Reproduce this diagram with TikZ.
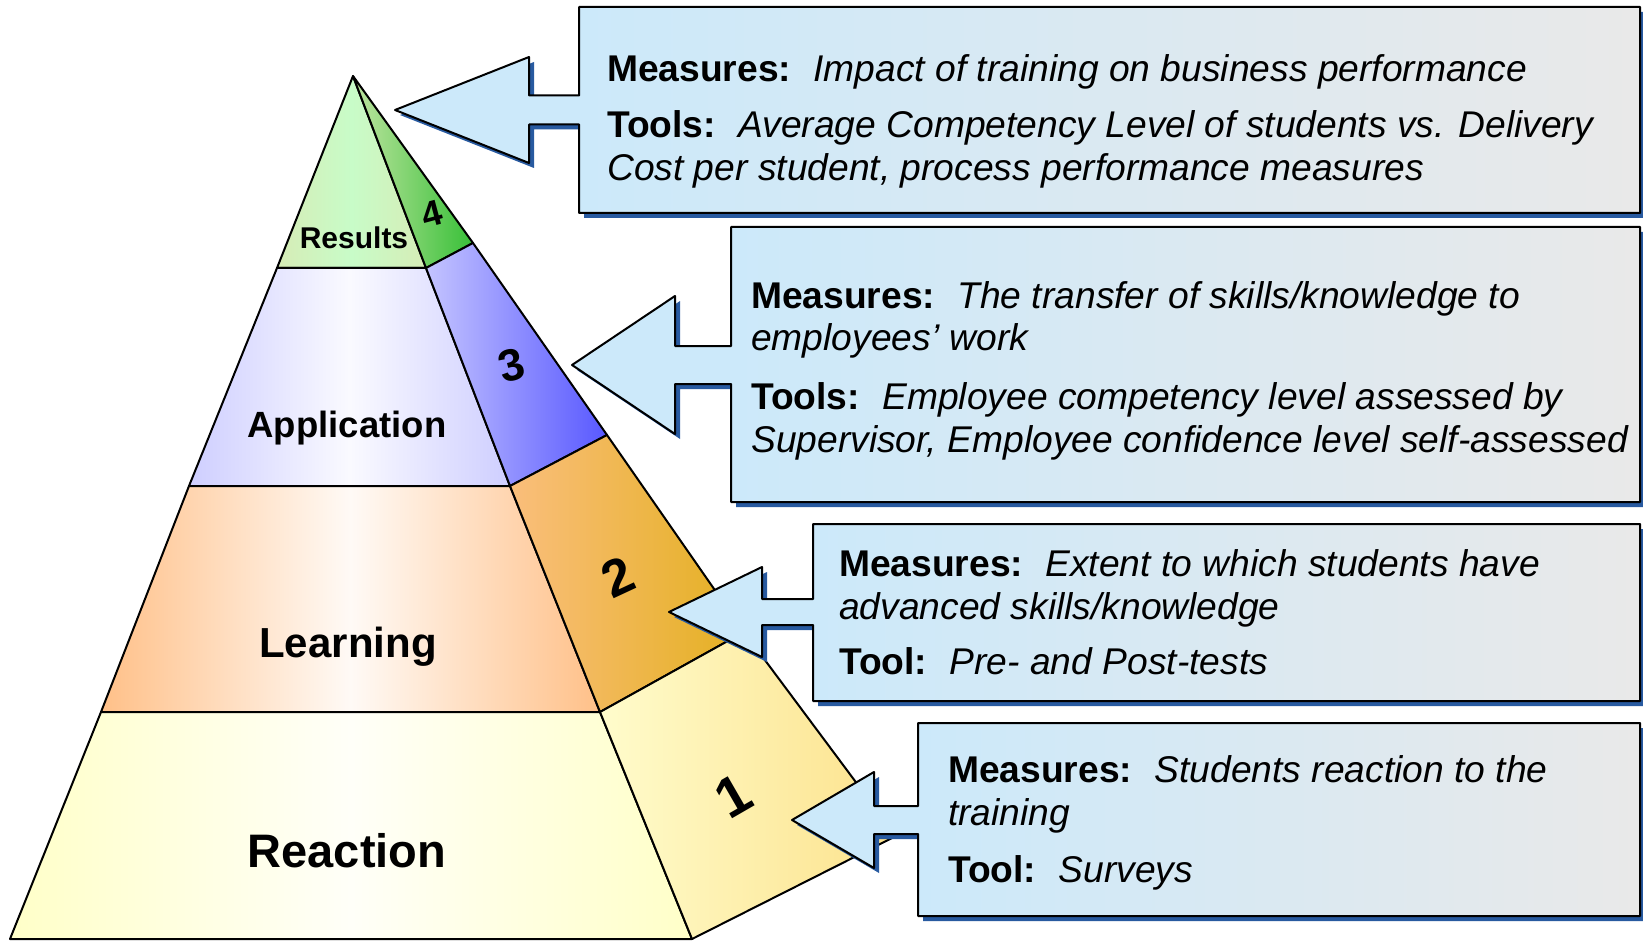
\documentclass[tikz,border=0pt]{standalone}
\usepackage{fontspec}
\setmainfont{Liberation Sans}
\usetikzlibrary{calc}
\definecolor{callblue}{RGB}{204,233,250}
\definecolor{callgrey}{RGB}{233,233,233}
\definecolor{callshadow}{RGB}{40,90,160}
\definecolor{resedge}{RGB}{214,236,182}
\definecolor{resmid}{RGB}{200,252,200}
\definecolor{resside}{RGB}{190,228,160}
\definecolor{resdark}{RGB}{56,192,56}
\definecolor{appedge}{RGB}{206,206,255}
\definecolor{appmid}{RGB}{250,250,255}
\definecolor{appside}{RGB}{196,196,255}
\definecolor{appdark}{RGB}{88,88,255}
\definecolor{lrnedge}{RGB}{255,192,136}
\definecolor{lrnmid}{RGB}{255,250,246}
\definecolor{lrnside}{RGB}{250,190,124}
\definecolor{lrndark}{RGB}{228,176,32}
\definecolor{rctedge}{RGB}{255,255,200}
\definecolor{rctmid}{RGB}{255,255,248}
\definecolor{rctside}{RGB}{255,252,204}
\definecolor{rctdark}{RGB}{252,226,140}

% #1 box, #2 tip, #3 head length, #4 half head, #5 half shaft
\newcommand{\callout}[5]{%
  \fill[callshadow] ($(#1.north west)+(5,5)$) -- ($(#1.north east)+(5,5)$) -- ($(#1.south east)+(5,5)$) -- ($(#1.south west)+(5,5)$)
    -- ($(#2 -| #1.west)+(5,#5+5)$) -- ($(#2)+(#3+5,#5+5)$) -- ($(#2)+(#3+5,#4+5)$) -- ($(#2)+(5,5)$)
    -- ($(#2)+(#3+5,-#4+5)$) -- ($(#2)+(#3+5,-#5+5)$) -- ($(#2 -| #1.west)+(5,-#5+5)$) -- cycle;
  \shade[left color=callblue,right color=callgrey] (#1.north west) rectangle (#1.south east);
  \fill[callblue] ($(#2 -| #1.west)+(3,#5)$) -- ($(#2)+(#3,#5)$) -- ($(#2)+(#3,#4)$) -- (#2)
    -- ($(#2)+(#3,-#4)$) -- ($(#2)+(#3,-#5)$) -- ($(#2 -| #1.west)+(3,-#5)$) -- cycle;
  \draw[line width=2pt] (#1.north west) -- (#1.north east) -- (#1.south east) -- (#1.south west)
    -- ($(#2 -| #1.west)+(0,#5)$) -- ($(#2)+(#3,#5)$) -- ($(#2)+(#3,#4)$) -- (#2)
    -- ($(#2)+(#3,-#4)$) -- ($(#2)+(#3,-#5)$) -- ($(#2 -| #1.west)+(0,-#5)$) -- cycle;
}

\begin{document}
\begin{tikzpicture}[x=1pt,y=-1pt,line join=round,
  face/.style={line width=2pt},
  callbox/.style={rectangle,anchor=north west,inner sep=0pt,outer sep=0pt},
  calltext/.style={anchor=base west,inner sep=0pt,font=\fontsize{37.2}{43}\selectfont},
  tierlabel/.style={anchor=base,inner sep=0pt},
  tiernum/.style={inner sep=0pt}]
  \useasboundingbox (0,0) rectangle (1643,941);

  % pyramid corners
  \coordinate (apex) at (353,76);
  \coordinate (l1) at (277,268); \coordinate (l2) at (189,486); \coordinate (l3) at (101,712); \coordinate (l4) at (10,939);
  \coordinate (r1) at (426,268); \coordinate (r2) at (510,486); \coordinate (r3) at (600,712); \coordinate (r4) at (692,939);
  \coordinate (o4) at (473,243); \coordinate (o3) at (607,435); \coordinate (o2) at (744,632); \coordinate (o1) at (896,836);

  % front faces
  \draw[face,left color=resedge,right color=resedge,middle color=resmid] (apex) -- (r1) -- (l1) -- cycle;
  \draw[face,left color=appedge,right color=appedge,middle color=appmid] (l1) -- (r1) -- (r2) -- (l2) -- cycle;
  \draw[face,left color=lrnedge,right color=lrnedge,middle color=lrnmid] (l2) -- (r2) -- (r3) -- (l3) -- cycle;
  \draw[face,left color=rctedge,right color=rctedge,middle color=rctmid] (l3) -- (r3) -- (r4) -- (l4) -- cycle;
  % side faces
  \draw[face,left color=resside,right color=resdark] (apex) -- (o4) -- (r1) -- cycle;
  \draw[face,left color=appside,right color=appdark] (r1) -- (o4) -- (o3) -- (r2) -- cycle;
  \draw[face,left color=lrnside,right color=lrndark] (r2) -- (o3) -- (o2) -- (r3) -- cycle;
  \draw[face,left color=rctside,right color=rctdark] (r3) -- (o2) -- (o1) -- (r4) -- cycle;

  \node[tierlabel,font=\fontsize{30}{30}\selectfont\bfseries] (results) at (354,249) {Results};
  \node[tierlabel,font=\fontsize{36.5}{36.5}\selectfont\bfseries] (application) at (347,437) {Application};
  \node[tierlabel,font=\fontsize{42}{42}\selectfont\bfseries] (learning) at (348,657) {Learning};
  \node[tierlabel,font=\fontsize{47}{47}\selectfont\bfseries] (reaction) at (347,867) {Reaction};
  \node[tiernum,font=\fontsize{36}{36}\selectfont\bfseries,rotate=15] (n4) at (432,214) {4};
  \node[tiernum,font=\fontsize{45}{45}\selectfont\bfseries,rotate=15] (n3) at (512,365) {3};
  \node[tiernum,font=\fontsize{52}{52}\selectfont\bfseries,rotate=25] (n2) at (618,577) {2};
  \node[tiernum,font=\fontsize{56}{56}\selectfont\bfseries,rotate=30] (n1) at (733,796) {1};

  % callouts
  \node[callbox,minimum width=1061pt,minimum height=206pt] (b4) at (579,7) {};
  \node[callbox,minimum width=909pt,minimum height=275pt] (b3) at (731,227) {};
  \node[callbox,minimum width=827pt,minimum height=177pt] (b2) at (813,524) {};
  \node[callbox,minimum width=722pt,minimum height=193pt] (b1) at (918,723) {};
  \coordinate (t4) at (395,110); \coordinate (t3) at (572,365); \coordinate (t2) at (669,612); \coordinate (t1) at (792,820);
  \callout{b4}{t4}{134}{53}{14.5}
  \callout{b3}{t3}{103}{69}{19}
  \callout{b2}{t2}{93}{45}{13}
  \callout{b1}{t1}{82}{48}{14}

  \node[calltext] (m4) at ($(b4.north west)+(28,75)$) {\begin{tabular}[t]{@{}l@{}}
    \textbf{Measures:}\hskip0.6em\textit{Impact of training on business performance}\\[13pt]
    \textbf{Tools:}\hskip0.6em\textit{Average Competency Level of students vs. Delivery}\\
    \textit{Cost per student, process performance measures}\end{tabular}};
  \node[calltext] (m3) at ($(b3.north west)+(20,81)$) {\begin{tabular}[t]{@{}l@{}}
    \textbf{Measures:}\hskip0.6em\textit{The transfer of skills/knowledge to}\\
    \textit{employees’ work}\\[15pt]
    \textbf{Tools:}\hskip0.6em\textit{Employee competency level assessed by}\\
    \textit{Supervisor, Employee confidence level self-assessed}\end{tabular}};
  \node[calltext] (m2) at ($(b2.north west)+(26,52)$) {\begin{tabular}[t]{@{}l@{}}
    \textbf{Measures:}\hskip0.6em\textit{Extent to which students have}\\
    \textit{advanced skills/knowledge}\\[12pt]
    \textbf{Tool:}\hskip0.6em\textit{Pre- and Post-tests}\end{tabular}};
  \node[calltext] (m1) at ($(b1.north west)+(30,59)$) {\begin{tabular}[t]{@{}l@{}}
    \textbf{Measures:}\hskip0.6em\textit{Students reaction to the}\\
    \textit{training}\\[14pt]
    \textbf{Tool:}\hskip0.6em\textit{Surveys}\end{tabular}};
\end{tikzpicture}
\end{document}
